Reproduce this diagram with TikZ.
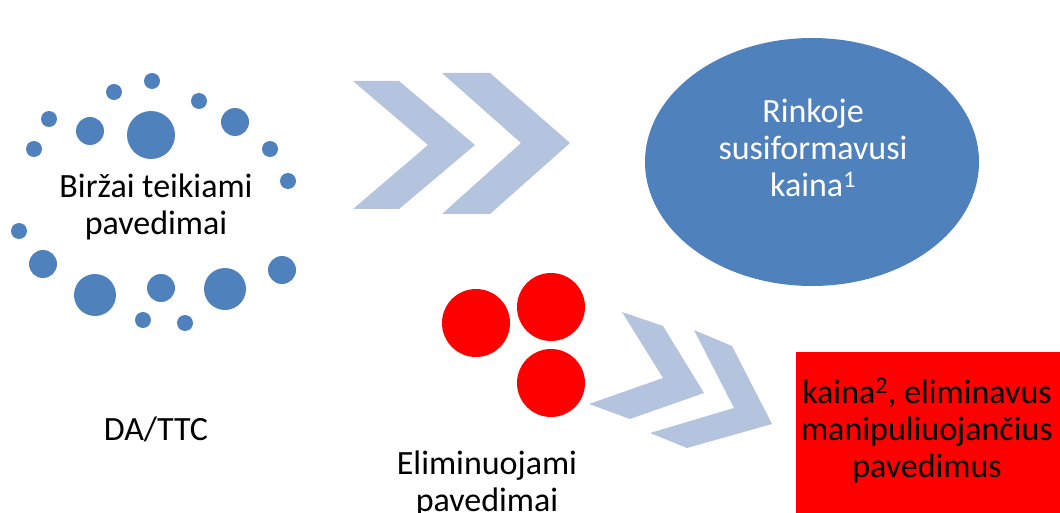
\documentclass[tikz,border=0pt]{standalone}
\usepackage{fontspec}
\setmainfont{Carlito}
\definecolor{dotblue}{RGB}{79,129,189}
\definecolor{chevblue}{RGB}{180,195,222}
\begin{document}
\begin{tikzpicture}[x=1pt, y=-1pt,
	lbl/.style={align=center, inner sep=0pt, anchor=base, font=\fontsize{34}{37}\selectfont}]
		%%%%% START %%%%%
		
		\useasboundingbox (0, 0) rectangle (1060, 513);
		
		% dots round the orders
		\fill[dotblue] (152, 81) circle (8);
		\fill[dotblue] (114, 92) circle (8);
		\fill[dotblue] (199, 101) circle (8);
		\fill[dotblue] (49, 119) circle (8);
		\fill[dotblue] (90, 131) circle (14);
		\fill[dotblue] (151, 135) circle (24);
		\fill[dotblue] (235, 122) circle (14);
		\fill[dotblue] (34, 149) circle (8);
		\fill[dotblue] (270, 149) circle (8);
		\fill[dotblue] (288, 181) circle (8);
		\fill[dotblue] (19, 231) circle (8);
		\fill[dotblue] (43, 264) circle (14);
		\fill[dotblue] (282, 270) circle (14);
		\fill[dotblue] (95, 295) circle (21);
		\fill[dotblue] (161, 288) circle (14);
		\fill[dotblue] (225, 289) circle (21);
		\fill[dotblue] (143, 320) circle (8);
		\fill[dotblue] (185, 323) circle (8);
		
		\node[lbl] (orders) at (156, 235) {Biržai teikiami\\pavedimai};
		\node[lbl] (datt) at (156, 440) {DA/TTC};
		
		% upper chevrons
		\fill[chevblue] (353, 81) -- (399, 81) -- (475, 145) -- (399, 209) -- (353, 209) -- (428, 145) -- cycle;
		\fill[chevblue] (442, 73) -- (490, 73) -- (570, 143) -- (490, 214) -- (442, 214) -- (521, 143) -- cycle;
		
		% market price
		\fill[dotblue] (812, 162) ellipse (167 and 124);
		\node[lbl, text=white] (price) at (813, 197) {Rinkoje\\susiformavusi\\kaina\textsuperscript{1}};
		
		% eliminated orders
		\fill[red] (476, 323) circle (34);
		\fill[red] (551, 307) circle (34);
		\fill[red] (551, 383) circle (34);
		\node[lbl] (elim) at (487, 511) {Eliminuojami\\pavedimai};
		
		% lower chevrons
		\fill[chevblue] (622, 312) -- (663, 326) -- (704, 393) -- (630, 419) -- (589, 404) -- (663, 378) -- cycle;
		\fill[chevblue] (694, 330) -- (732, 346) -- (772, 424) -- (687, 448) -- (650, 433) -- (734, 408) -- cycle;
		
		% price without manipulation
		\fill[red] (796, 352) rectangle (1060, 513);
		\node[lbl] (clean) at (927, 477) {kaina\textsuperscript{2}, eliminavus\\manipuliuojančius\\pavedimus};
		
		%%%%% END %%%%%
	\end{tikzpicture}
\end{document}
